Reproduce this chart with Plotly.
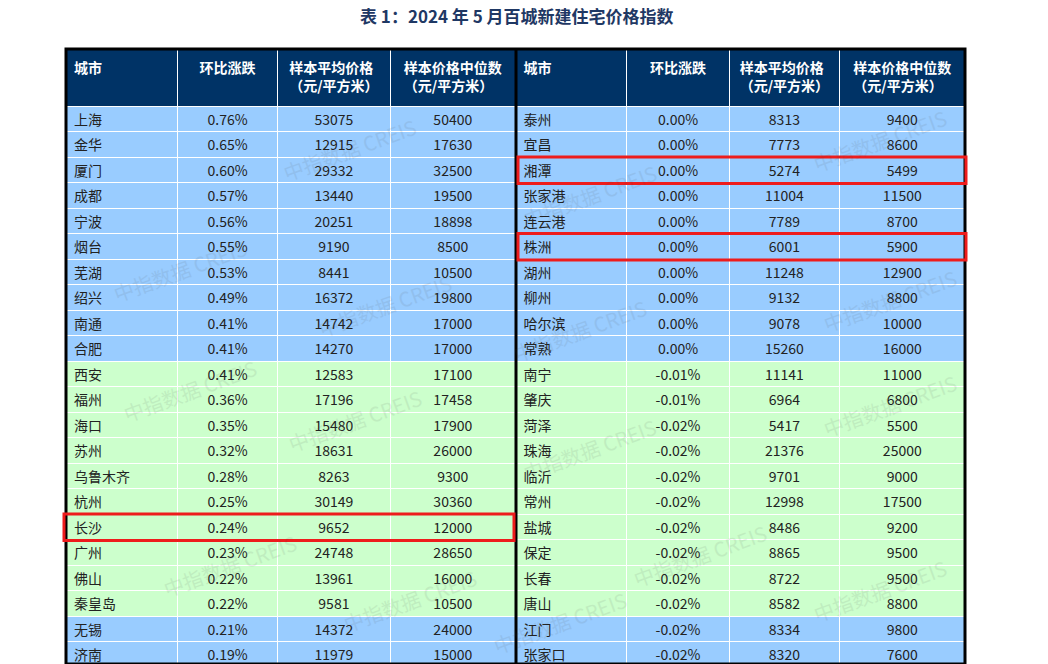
import plotly.graph_objects as go

title = "表 1：2024 年 5 月百城新建住宅价格指数"
headers = ["城市", "环比涨跌", "样本平均价格<br>（元/平方米）", "样本价格中位数<br>（元/平方米）"]

left_city = ["上海", "金华", "厦门", "成都", "宁波", "烟台", "芜湖", "绍兴", "南通", "合肥",
             "西安", "福州", "海口", "苏州", "乌鲁木齐", "杭州", "长沙", "广州", "佛山", "秦皇岛",
             "无锡", "济南"]
left_chg = ["0.76%", "0.65%", "0.60%", "0.57%", "0.56%", "0.55%", "0.53%", "0.49%", "0.41%", "0.41%",
            "0.41%", "0.36%", "0.35%", "0.32%", "0.28%", "0.25%", "0.24%", "0.23%", "0.22%", "0.22%",
            "0.21%", "0.19%"]
left_avg = [53075, 12915, 29332, 13440, 20251, 9190, 8441, 16372, 14742, 14270,
            12583, 17196, 15480, 18631, 8263, 30149, 9652, 24748, 13961, 9581,
            14372, 11979]
left_med = [50400, 17630, 32500, 19500, 18898, 8500, 10500, 19800, 17000, 17000,
            17100, 17458, 17900, 26000, 9300, 30360, 12000, 28650, 16000, 10500,
            24000, 15000]

right_city = ["泰州", "宜昌", "湘潭", "张家港", "连云港", "株洲", "湖州", "柳州", "哈尔滨", "常熟",
              "南宁", "肇庆", "菏泽", "珠海", "临沂", "常州", "盐城", "保定", "长春", "唐山",
              "江门", "张家口"]
right_chg = ["0.00%"] * 10 + ["-0.01%", "-0.01%", "-0.02%", "-0.02%", "-0.02%", "-0.02%", "-0.02%",
                             "-0.02%", "-0.02%", "-0.02%", "-0.02%", "-0.02%"]
right_avg = [8313, 7773, 5274, 11004, 7789, 6001, 11248, 9132, 9078, 15260,
             11141, 6964, 5417, 21376, 9701, 12998, 8486, 8865, 8722, 8582,
             8334, 8320]
right_med = [9400, 8600, 5499, 11500, 8700, 5900, 12900, 8800, 10000, 16000,
             11000, 6800, 5500, 25000, 9000, 17500, 9200, 9500, 9500, 8800,
             9800, 7600]

highlight_left = ["长沙"]
highlight_right = ["湘潭", "株洲"]

BLUE, GREEN, NAVY = "#99CCFF", "#CCFFCC", "#003366"
n = len(left_city)
row_colors = [BLUE if (i // 10) % 2 == 0 else GREEN for i in range(n)]

# page body has an 8px margin, so everything is placed 8px up/left
OFF = 8
W, H = 1048 - OFF, 664 - OFF
L, R, T, B = 66 - OFF, 965 - OFF, 49 - OFF, 664 - OFF
HEAD_H, ROW_H = 57, 25.5


def px(x):
    return (x - OFF - L) / (R - L)


def py(y):
    return 1 - (y - OFF - T) / (B - T)


fig = go.Figure()
fig.add_trace(go.Table(
    domain=dict(x=[0, 1], y=[0, 1]),
    columnwidth=[111, 100, 112, 125, 111, 102, 110, 125],
    header=dict(
        values=["<b>%s</b>" % h for h in headers * 2],
        fill_color=NAVY,
        line=dict(color="white", width=1),
        font=dict(color="white", size=14, family="Noto Sans CJK SC"),
        align=["left", "center", "center", "center"] * 2,
        height=HEAD_H,
    ),
    cells=dict(
        values=[left_city, left_chg, left_avg, left_med, right_city, right_chg, right_avg, right_med],
        fill_color=[row_colors] * 8,
        line=dict(color="white", width=1),
        font=dict(color="#222222", size=14, family="Noto Sans CJK SC"),
        align=["left", "center", "center", "center"] * 2,
        height=ROW_H,
    ),
))

shapes = [
    dict(type="rect", xref="paper", yref="paper", x0=px(66), x1=px(965), y0=py(664), y1=py(49),
         line=dict(color="black", width=3)),
    dict(type="line", xref="paper", yref="paper", x0=px(516), x1=px(516), y0=py(664), y1=py(49),
         line=dict(color="black", width=3)),
]
for name in highlight_left:
    i = left_city.index(name)
    top = 49 + HEAD_H + ROW_H * i
    shapes.append(dict(type="rect", xref="paper", yref="paper", x0=px(64), x1=px(514),
                       y0=py(top + ROW_H + 1), y1=py(top), line=dict(color="#EE1C1C", width=3)))
for name in highlight_right:
    i = right_city.index(name)
    top = 49 + HEAD_H + ROW_H * i
    shapes.append(dict(type="rect", xref="paper", yref="paper", x0=px(518), x1=px(966),
                       y0=py(top + ROW_H + 1), y1=py(top), line=dict(color="#EE1C1C", width=3)))

marks = [(350, 150), (180, 270), (385, 305), (590, 195), (580, 330), (190, 390), (355, 420),
         (590, 450), (230, 565), (410, 600), (700, 555), (890, 300), (890, 405), (880, 590),
         (880, 140), (560, 622)]
annotations = [dict(text="中指数据 CREIS", xref="paper", yref="paper", x=px(x), y=py(y),
                    xanchor="center", yanchor="middle",
                    showarrow=False, textangle=-20, opacity=0.09,
                    font=dict(size=20, color="#444444", family="Noto Sans CJK SC"))
               for x, y in marks]
annotations.append(dict(text="<b>%s</b>" % title, xref="paper", yref="paper", x=px(517), y=py(16),
                        xanchor="center", yanchor="middle",
                        showarrow=False, font=dict(size=17, color="#1F3864", family="Noto Sans CJK SC")))

fig.update_layout(
    width=W, height=H,
    margin=dict(l=L, r=W - R, t=T, b=H - B),
    paper_bgcolor="white",
    shapes=shapes, annotations=annotations,
)
fig.write_html("out.html")
